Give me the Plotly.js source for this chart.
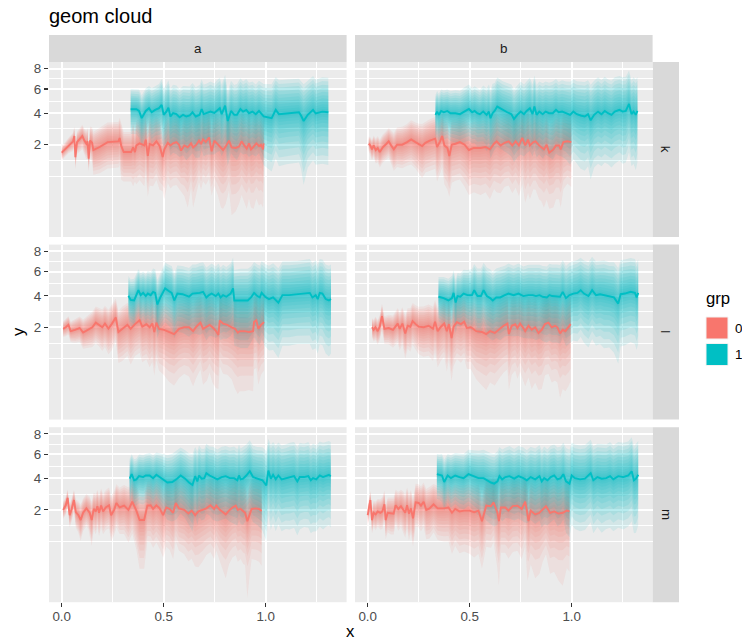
<!DOCTYPE html>
<html><head><meta charset="utf-8">
<script src="https://cdn.plot.ly/plotly-3.0.1.min.js"></script>
<style>html,body{margin:0;padding:0;background:#fff}#chart{width:742px;height:643px}</style>
</head><body><div id="chart"></div>
<script>
// ---------------- data ----------------
const facetCols = ['a', 'b'];
const facetRows = ['k', 'l', 'm'];
const groups = ['0', '1'];
const yBreaks = [2, 4, 6, 8];
const xBreaks = [0, 0.5, 1.0];
const xTickText = ['0.0', '0.5', '1.0'];

// panel a / k
const ak0_x = [0,.016,.033,.046,.056,.062,.067,.075,.088,.101,.111,.121,.127,.132,.139,.149,.155,.186,.225,.278,.284,.292,.304,.340,.350,.359,.366,.382,.405,.412,.422,.431,.448,.464,.480,.495,.503,.520,.533,.546,.562,.575,.585,.601,.618,.634,.644,.660,.673,.683,.693,.706,.722,.735,.748,.765,.781,.791,.804,.820,.833,.853,.869,.882,.895,.907,.918,.928,.941,.954,.967,.977,.987,.990];
const ak0_y = [1.60,1.76,1.97,2.07,2.18,2.48,1.40,2.14,2.29,2.48,2.22,2.05,2.18,1.33,2.22,2.10,1.73,1.88,2.14,2.18,2.37,1.93,1.63,1.63,1.86,1.63,1.96,2.07,1.96,2.27,1.45,2.03,1.96,2.18,1.93,1.40,1.76,2.10,1.96,2.07,2.14,2.0,1.70,1.96,1.86,2.07,1.86,2.0,2.22,2.03,2.29,2.14,2.40,1.67,2.22,2.03,1.86,1.73,1.90,2.22,1.86,1.83,1.90,2.18,1.96,1.80,2.07,1.76,1.90,2.07,1.93,2.0,1.76,2.07];
const ak0_s = [0.35,0.35,0.4,0.45,0.5,0.6,0.5,0.6,0.65,0.7,0.7,0.75,0.8,0.5,0.85,0.9,1.0,1.1,1.2,1.2,1.3,1.35,1.1,1.1,1.45,1.1,1.5,1.5,1.55,1.55,1.25,1.6,1.55,1.6,1.6,1.1,1.6,1.6,1.6,1.65,1.7,1.65,1.4,1.75,1.8,1.7,1.8,1.75,1.7,1.7,1.75,1.7,1.8,1.45,1.8,1.8,1.8,1.68,1.8,1.9,1.85,1.8,1.8,1.95,1.85,1.75,1.9,1.7,1.85,1.9,1.85,1.9,1.7,1.85];
const ak1_x = [.338,.366,.379,.392,.412,.428,.441,.458,.477,.490,.500,.513,.523,.533,.546,.562,.578,.595,.611,.627,.641,.657,.676,.686,.696,.709,.729,.748,.761,.775,.784,.801,.814,.830,.846,.859,.876,.889,.905,.918,.935,.951,.967,.990,1.029,1.049,1.065,1.101,1.163,1.173,1.186,1.206,1.232,1.245,1.278,1.307];
const ak1_y = [4.30,4.30,4.17,3.64,4.17,4.38,4.07,4.25,4.38,4.64,3.88,4.12,4.42,3.76,4.0,3.93,3.70,3.88,3.76,3.83,4.07,3.76,3.88,4.32,3.93,4.0,4.12,4.02,4.22,4.38,3.93,4.58,3.44,4.17,3.88,3.88,4.32,4.12,4.25,4.0,4.12,3.93,4.17,3.76,3.64,4.25,3.93,4.0,4.07,3.83,3.44,3.88,4.25,3.98,4.12,4.07];
const ak1_s = [1.7,1.7,1.8,1.8,1.9,1.9,2.0,2.0,2.1,2.3,2.2,2.3,2.4,2.3,2.4,2.4,2.3,2.4,2.5,2.4,2.5,2.4,2.5,2.6,2.5,2.5,2.6,2.5,2.6,2.7,2.5,2.8,2.4,2.6,2.5,2.6,2.7,2.6,2.7,2.6,2.6,2.5,2.6,2.7,2.8,2.9,2.9,2.9,2.9,2.9,3.0,2.9,3.0,2.9,3.0,3.0];

// panel b / k
const bk0_x = [.005,.013,.021,.029,.039,.049,.059,.075,.092,.103,.115,.128,.144,.169,.193,.213,.234,.252,.267,.283,.304,.331,.340,.355,.365,.376,.391,.400,.412,.430,.452,.475,.496,.520,.553,.578,.599,.619,.632,.651,.671,.691,.709,.725,.741,.758,.772,.786,.795,.812,.823,.840,.851,.864,.877,.890,.910,.923,.938,.946,.959,.979,.998];
const bk0_y = [2.05,1.96,1.76,1.96,1.73,1.83,1.63,1.88,2.05,2.18,1.96,1.76,2.0,2.0,2.14,2.29,2.14,2.0,1.93,2.10,2.22,2.33,1.88,2.18,2.48,1.96,1.83,1.45,2.0,2.05,2.14,2.0,1.73,1.83,1.83,1.88,1.76,2.05,2.18,1.96,2.10,2.18,1.96,2.18,1.96,2.37,1.96,2.27,1.96,2.14,2.18,1.96,1.88,1.76,2.0,1.60,1.76,1.96,1.96,1.76,2.14,2.18,2.14];
const bk0_s = [0.4,0.45,0.5,0.55,0.6,0.65,0.65,0.7,0.75,0.8,0.85,0.9,1.0,1.05,1.1,1.2,1.2,1.25,1.3,1.3,1.35,1.4,1.35,1.4,1.5,1.5,1.5,1.25,1.5,1.5,1.55,1.6,1.5,1.55,1.6,1.6,1.6,1.7,1.9,1.7,1.7,1.75,1.7,1.8,1.75,1.9,1.85,2.0,1.8,1.8,1.85,1.8,1.75,1.7,1.85,1.55,1.7,1.8,1.8,1.7,1.8,1.7,1.75];
const bk1_x = [.332,.340,.349,.360,.373,.390,.406,.430,.452,.471,.496,.512,.524,.537,.550,.566,.583,.594,.602,.612,.622,.635,.660,.684,.704,.717,.733,.750,.766,.779,.795,.808,.817,.828,.841,.858,.872,.889,.907,.923,.936,.953,.972,.992,1.008,1.025,1.044,1.064,1.080,1.093,1.110,1.129,1.146,1.162,1.178,1.195,1.211,1.234,1.250,1.265,1.281,1.293,1.303,1.314,1.322];
const bk1_y = [3.88,4.12,3.88,4.17,4.07,4.17,4.0,4.0,3.93,4.12,4.32,4.07,4.17,4.0,3.93,4.12,3.88,4.12,3.64,4.0,4.17,4.51,4.25,4.07,3.93,3.58,3.88,4.12,3.93,4.17,4.38,3.93,4.51,3.88,4.12,3.93,4.12,4.0,4.0,4.25,4.07,4.12,4.0,3.88,4.12,3.93,3.83,3.76,3.93,3.49,3.88,4.12,3.93,4.17,4.0,3.88,4.12,4.25,4.12,4.17,4.72,3.93,4.12,3.88,4.17];
const bk1_s = [1.6,1.7,1.7,1.8,1.8,1.8,1.8,1.9,1.9,2.0,2.1,2.0,2.1,2.1,2.0,2.2,2.2,2.3,2.3,2.5,2.4,2.6,2.5,2.5,2.5,2.4,2.5,2.6,2.5,2.6,2.7,2.5,2.8,2.5,2.6,2.6,2.6,2.6,2.7,2.7,2.6,2.7,2.7,2.8,2.8,2.8,2.9,2.9,2.9,2.9,2.9,3.0,2.9,3.0,2.9,2.9,3.0,3.0,3.0,3.0,3.1,2.9,3.0,3.0,3.0];

// panel a / l
const al0_x = [.007,.020,.033,.044,.065,.088,.105,.131,.150,.167,.183,.199,.212,.229,.245,.265,.278,.297,.322,.338,.359,.382,.395,.415,.431,.444,.454,.464,.477,.502,.526,.551,.575,.600,.624,.644,.660,.680,.693,.712,.725,.739,.755,.768,.775,.791,.812,.833,.850,.863,.873,.894,.918,.938,.943,.954,.964,.977,.992];
const al0_y = [1.92,2.0,2.13,1.80,1.87,1.96,1.73,1.87,2.0,2.25,2.13,2.0,2.20,1.93,2.17,2.55,1.76,1.92,2.13,1.92,2.17,2.38,2.03,2.17,2.0,2.20,1.76,2.25,1.92,1.87,1.76,1.66,1.92,2.0,2.0,1.80,2.03,2.25,1.92,2.03,2.13,2.0,1.83,1.62,2.38,2.20,2.13,2.0,1.92,1.73,1.80,1.80,1.76,1.80,2.30,2.38,1.92,2.13,2.28];
const al0_s = [0.4,0.45,0.5,0.5,0.6,0.65,0.7,0.8,0.9,1.0,1.0,1.05,1.1,1.1,1.2,1.25,1.2,1.3,1.35,1.4,1.4,1.5,1.45,1.5,1.55,1.6,1.5,1.6,1.55,1.6,1.6,1.55,1.7,1.7,1.75,1.7,1.8,1.85,1.8,1.85,1.8,1.85,1.75,1.55,1.9,1.9,1.85,1.8,1.85,1.7,1.75,1.75,1.7,1.75,1.9,1.95,1.8,1.85,1.9];
const al1_x = [.327,.338,.355,.366,.376,.387,.399,.412,.422,.436,.448,.458,.469,.485,.507,.523,.539,.552,.567,.592,.624,.641,.657,.676,.693,.709,.722,.735,.755,.768,.779,.791,.807,.828,.840,.846,.877,.912,.928,.943,.959,.971,.980,.997,1.016,1.036,1.062,1.082,1.114,1.155,1.216,1.229,1.245,1.255,1.265,1.278,1.294,1.310,1.320];
const al1_y = [4.0,3.70,3.66,4.12,4.43,4.05,4.22,3.98,4.17,4.05,4.30,4.22,3.38,3.93,4.57,4.38,4.22,3.66,4.17,4.12,3.93,4.17,4.17,4.22,4.30,3.88,4.05,4.17,3.98,4.17,3.88,4.05,3.93,4.17,4.57,3.66,3.66,3.66,3.88,4.22,3.98,3.88,4.22,3.93,3.76,3.88,3.51,4.05,4.05,4.12,4.22,3.88,4.05,3.76,4.22,4.17,3.76,3.66,3.76];
const al1_s = [1.6,1.6,1.7,1.7,1.8,1.8,1.8,1.8,1.9,1.9,2.0,2.0,1.9,2.0,2.3,2.3,2.3,2.2,2.4,2.4,2.4,2.5,2.5,2.6,2.6,2.5,2.5,2.6,2.5,2.6,2.5,2.6,2.5,2.6,2.8,2.5,2.6,2.6,2.6,2.7,2.7,2.7,2.8,2.8,2.8,2.9,2.8,2.9,2.9,2.9,3.0,2.9,3.0,2.9,3.0,3.0,2.9,2.9,2.9];

// panel b / l
const bl0_x = [.021,.029,.038,.049,.059,.070,.082,.103,.124,.135,.147,.157,.170,.184,.196,.209,.220,.235,.250,.274,.299,.320,.330,.343,.359,.375,.388,.398,.411,.421,.437,.457,.473,.486,.506,.532,.560,.581,.600,.623,.646,.666,.685,.692,.706,.723,.734,.747,.760,.772,.788,.804,.821,.837,.853,.869,.886,.902,.918,.930,.943,.956,.969,.984,.995];
const bl0_y = [2.0,1.87,2.0,1.80,2.03,2.63,1.92,1.96,1.87,2.03,2.20,1.92,2.20,1.69,2.08,2.03,2.34,2.17,2.03,2.0,2.08,1.92,2.30,1.80,2.03,2.20,1.80,2.17,1.47,2.03,2.28,2.17,2.30,1.96,2.0,1.80,1.76,1.66,1.80,1.71,1.92,2.08,2.20,1.66,2.08,2.17,1.96,2.20,2.0,1.80,2.08,1.87,2.0,1.71,1.87,2.17,2.25,2.0,2.08,2.0,1.69,1.87,1.80,2.0,2.17];
const bl0_s = [0.5,0.55,0.6,0.6,0.65,0.8,0.7,0.75,0.8,0.85,0.95,0.95,1.0,1.0,1.05,1.1,1.15,1.15,1.2,1.25,1.3,1.3,1.4,1.35,1.4,1.45,1.45,1.5,1.3,1.55,1.6,1.6,1.6,1.55,1.6,1.6,1.65,1.6,1.65,1.6,1.7,1.75,1.8,1.6,1.8,1.8,1.75,1.85,1.8,1.7,1.85,1.8,1.85,1.65,1.8,1.9,1.95,1.85,1.9,1.85,1.68,1.8,1.75,1.9,2.0];
const bl1_x = [.347,.372,.396,.413,.421,.431,.440,.454,.470,.489,.511,.522,.538,.555,.568,.584,.600,.613,.630,.649,.672,.690,.715,.739,.763,.788,.809,.825,.842,.858,.878,.891,.904,.927,.943,.956,.972,.989,1.008,1.028,1.044,1.060,1.082,1.100,1.119,1.139,1.158,1.184,1.207,1.228,1.240,1.261,1.289,1.310,1.318,1.326];
const bl1_y = [3.93,3.83,3.66,3.83,4.22,3.51,3.98,3.93,4.17,4.05,4.05,4.43,3.98,3.98,4.43,3.98,3.83,3.66,3.88,3.88,4.05,4.17,4.05,4.17,3.98,4.05,4.05,3.98,4.05,3.93,3.88,4.05,3.98,3.98,3.93,4.30,3.83,4.05,4.17,4.22,4.43,4.17,3.98,4.43,4.05,4.12,4.05,3.98,3.88,3.44,4.12,4.17,4.30,4.22,3.88,4.22];
const bl1_s = [1.6,1.7,1.7,1.8,1.9,1.8,1.9,1.9,2.0,2.1,2.2,2.3,2.3,2.3,2.4,2.4,2.4,2.3,2.4,2.5,2.5,2.6,2.5,2.6,2.5,2.6,2.6,2.6,2.6,2.6,2.6,2.7,2.7,2.7,2.7,2.8,2.7,2.8,2.8,2.9,2.9,2.9,2.9,3.0,2.9,2.9,3.0,2.9,3.0,2.9,3.0,3.0,3.0,3.0,2.9,3.0];

// panel a / m
const am0_x = [.007,.020,.029,.039,.049,.060,.069,.082,.093,.105,.121,.131,.137,.147,.157,.167,.175,.183,.193,.203,.216,.232,.242,.257,.268,.284,.306,.327,.346,.366,.382,.404,.420,.436,.448,.464,.480,.497,.513,.529,.546,.559,.575,.600,.621,.637,.654,.670,.690,.709,.729,.747,.758,.775,.791,.804,.820,.837,.853,.863,.877,.889,.899,.910,.922,.931,.951,.967,.980];
const am0_y = [2.0,2.25,2.68,1.73,2.05,2.55,1.88,1.73,1.50,1.85,2.08,1.96,1.85,1.50,2.05,1.92,2.20,1.85,2.23,1.92,2.13,2.25,1.73,2.0,2.38,2.13,2.23,2.0,2.45,1.96,1.50,1.50,2.23,2.25,2.05,2.25,2.08,1.73,2.13,2.05,1.85,2.38,2.08,2.0,1.81,1.96,1.73,1.92,2.0,2.08,2.25,2.05,2.23,2.0,1.88,1.77,1.96,2.13,2.23,2.0,2.05,1.92,1.85,1.45,1.85,2.05,2.08,2.05,1.94];
const am0_s = [0.45,0.5,0.55,0.55,0.6,0.65,0.7,0.75,0.8,0.8,0.85,0.85,0.9,0.95,0.95,1.0,1.0,1.0,1.05,1.0,1.05,1.1,1.05,1.1,1.2,1.2,1.3,1.35,1.5,1.5,1.4,1.4,1.55,1.6,1.55,1.6,1.6,1.45,1.6,1.6,1.6,1.7,1.65,1.65,1.6,1.7,1.6,1.8,1.8,1.75,1.85,1.8,1.8,1.8,1.8,1.75,1.8,1.85,1.9,1.8,1.8,1.75,1.7,1.5,1.8,1.8,1.85,1.85,1.8];
const am1_x = [.333,.343,.355,.366,.379,.399,.412,.431,.448,.464,.480,.502,.518,.542,.562,.583,.605,.624,.641,.654,.665,.673,.686,.699,.709,.725,.742,.763,.784,.804,.824,.845,.861,.869,.877,.889,.905,.922,.938,.959,.984,1.003,1.013,1.025,1.036,1.049,1.062,1.078,1.098,1.118,1.139,1.155,1.167,1.188,1.209,1.221,1.232,1.248,1.265,1.281,1.297,1.310,1.319];
const am1_y = [3.98,4.32,3.86,3.93,4.17,4.10,4.22,4.22,4.02,4.27,4.10,3.86,3.70,3.74,3.93,4.22,3.98,3.70,3.53,4.17,3.78,4.22,3.98,4.02,4.40,4.22,4.10,3.93,4.10,4.17,4.02,4.02,3.86,4.22,3.93,3.98,4.22,4.55,4.10,3.98,3.86,3.49,4.60,3.98,4.27,3.93,4.22,3.93,4.02,4.10,4.17,3.78,4.10,4.10,4.17,3.86,4.02,3.93,4.22,4.10,4.22,4.27,4.17];
const am1_s = [1.6,1.7,1.7,1.7,1.8,1.8,1.8,1.9,1.9,1.9,2.0,2.1,2.2,2.3,2.4,2.4,2.4,2.4,2.5,2.5,2.5,2.6,2.5,2.5,2.6,2.5,2.6,2.5,2.6,2.6,2.6,2.7,2.6,2.7,2.6,2.7,2.7,2.8,2.7,2.7,2.8,2.8,2.9,2.9,2.9,2.9,2.9,2.9,2.9,3.0,3.0,2.9,3.0,2.9,3.0,2.9,3.0,2.9,3.0,3.0,3.0,3.0,3.0];

// panel b / m
const bm0_x = [0,.007,.013,.021,.029,.039,.049,.062,.072,.082,.088,.098,.114,.127,.137,.150,.163,.173,.184,.193,.202,.212,.222,.235,.250,.261,.274,.287,.303,.323,.343,.372,.396,.413,.429,.450,.473,.499,.522,.543,.560,.581,.604,.617,.636,.643,.653,.674,.690,.711,.734,.755,.772,.783,.788,.799,.821,.842,.858,.874,.894,.914,.935,.956,.976,.989];
const bm0_y = [1.73,2.08,2.55,1.50,1.85,1.77,1.92,1.85,1.92,2.30,1.50,1.85,1.81,1.81,2.25,2.05,2.20,2.05,1.85,2.25,1.81,2.08,1.58,2.42,2.38,2.23,2.45,2.0,2.08,2.30,2.08,2.08,2.13,1.85,2.05,1.92,1.96,1.96,1.88,1.96,1.45,2.23,2.20,2.42,1.85,1.45,2.13,2.13,1.96,2.20,2.23,2.05,2.45,1.81,1.45,1.96,1.77,1.85,2.0,2.20,1.85,1.92,1.81,1.85,1.96,1.92];
const bm0_s = [0.5,0.55,0.6,0.55,0.65,0.7,0.7,0.75,0.8,0.85,0.75,0.85,0.9,0.9,0.95,1.0,1.0,1.05,1.05,1.1,1.1,1.1,1.05,1.2,1.2,1.2,1.25,1.25,1.3,1.3,1.35,1.4,1.45,1.5,1.5,1.55,1.55,1.6,1.6,1.6,1.35,1.7,1.7,1.75,1.75,1.45,1.75,1.75,1.7,1.8,1.8,1.8,1.9,1.8,1.42,1.8,1.75,1.8,1.8,1.85,1.8,1.85,1.8,1.85,1.85,1.85];
const bm1_x = [.339,.352,.364,.375,.392,.408,.429,.450,.470,.494,.519,.543,.568,.584,.604,.620,.636,.646,.659,.675,.695,.718,.739,.763,.780,.799,.821,.842,.853,.865,.881,.897,.914,.930,.946,.959,.972,.989,1.000,1.016,1.041,1.065,1.093,1.106,1.126,1.147,1.169,1.188,1.204,1.228,1.253,1.277,1.294,1.305,1.315,1.326];
const bm1_y = [4.32,4.27,4.22,3.74,4.22,4.02,4.22,4.10,4.02,4.32,4.17,4.02,4.02,3.86,3.70,3.62,3.78,4.17,3.93,4.10,4.17,3.98,4.17,4.02,3.86,4.10,3.93,4.17,3.78,4.02,3.86,4.10,4.22,3.93,4.02,4.32,3.78,3.62,4.22,4.02,3.93,3.98,4.40,3.86,4.10,3.98,4.02,4.17,3.93,4.17,4.10,4.22,4.55,3.86,3.98,4.27];
const bm1_s = [1.7,1.7,1.8,1.8,1.8,1.9,1.9,2.0,2.0,2.1,2.2,2.3,2.4,2.4,2.4,2.4,2.5,2.5,2.5,2.5,2.6,2.5,2.6,2.6,2.5,2.6,2.6,2.7,2.6,2.7,2.6,2.7,2.7,2.7,2.7,2.8,2.8,2.8,2.9,2.9,2.9,2.9,3.0,2.9,2.9,3.0,2.9,3.0,2.9,3.0,3.0,3.0,3.1,2.9,3.0,3.0];

const series = [
  {col:'a',row:'k',grp:'0',x:ak0_x,y:ak0_y,s:ak0_s},{col:'a',row:'k',grp:'1',x:ak1_x,y:ak1_y,s:ak1_s},
  {col:'b',row:'k',grp:'0',x:bk0_x,y:bk0_y,s:bk0_s},{col:'b',row:'k',grp:'1',x:bk1_x,y:bk1_y,s:bk1_s},
  {col:'a',row:'l',grp:'0',x:al0_x,y:al0_y,s:al0_s},{col:'a',row:'l',grp:'1',x:al1_x,y:al1_y,s:al1_s},
  {col:'b',row:'l',grp:'0',x:bl0_x,y:bl0_y,s:bl0_s},{col:'b',row:'l',grp:'1',x:bl1_x,y:bl1_y,s:bl1_s},
  {col:'a',row:'m',grp:'0',x:am0_x,y:am0_y,s:am0_s},{col:'a',row:'m',grp:'1',x:am1_x,y:am1_y,s:am1_s},
  {col:'b',row:'m',grp:'0',x:bm0_x,y:bm0_y,s:bm0_s},{col:'b',row:'m',grp:'1',x:bm1_x,y:bm1_y,s:bm1_s}
];

// ---------------- layout / styling ----------------
const W = 742, H = 643;
const colPx = [[49, 346.6], [355, 652.6]];
const rowPx = [[62, 237], [244.6, 419.6], [427.2, 602.2]];
const xRange = [-0.0623, 1.3965];
const yRange = [-0.304, 2.953];
const rgb = {'0': [248,118,109], '1': [0,191,196]};
const K = 12, ALPHA = 0.1, STEP_POW = 1.5;
const FONT = '"Liberation Sans", Arial, Helvetica, sans-serif';

function ssqrt(v) { return v >= 0 ? Math.sqrt(v) : -Math.sqrt(-v); }
function minorBreaks(major, range) {
  const b = major.slice();
  const bd = b[1] - b[0];
  if (range[0] < b[0]) b.unshift(b[0] - bd);
  if (range[1] > b[b.length-1]) b.push(b[b.length-1] + (b[b.length-1]-b[b.length-2]));
  const out = [];
  for (let i = 0; i < b.length - 1; i++) { out.push(b[i], (b[i]+b[i+1])/2); }
  out.push(b[b.length-1]);
  return out.filter(v => v > range[0] && v < range[1] && !major.some(m => Math.abs(m - v) < 1e-6));
}
const ySqrtBreaks = yBreaks.map(Math.sqrt);
const yMinor = minorBreaks(ySqrtBreaks, yRange);
const xMinor = minorBreaks(xBreaks, xRange);

function axisIds(col, row) {
  const p = facetRows.indexOf(row) * 2 + facetCols.indexOf(col) + 1;
  return {xa: p === 1 ? 'x' : 'x' + p, ya: p === 1 ? 'y' : 'y' + p, p};
}

const traces = [];
// clouds: nested bands, denser near the centre line
groups.forEach(g => {
  series.filter(se => se.grp === g).forEach(se => {
    const ids = axisIds(se.col, se.row);
    const c = rgb[g];
    for (let k = K; k >= 1; k--) {
      const f = Math.pow(k / K, STEP_POW);
      const up = se.x.map((_, i) => Math.sqrt(se.y[i] + se.s[i] * f));
      const lo = se.x.map((_, i) => ssqrt(se.y[i] - se.s[i] * f));
      traces.push({
        type: 'scatter', mode: 'lines',
        x: se.x.concat(se.x.slice().reverse()),
        y: up.concat(lo.slice().reverse()),
        fill: 'toself', fillcolor: `rgba(${c[0]},${c[1]},${c[2]},${ALPHA})`,
        line: {width: 0, color: 'rgba(0,0,0,0)'}, hoverinfo: 'skip',
        xaxis: ids.xa, yaxis: ids.ya, showlegend: false
      });
    }
  });
});
// lines
groups.forEach(g => {
  series.filter(se => se.grp === g).forEach(se => {
    const ids = axisIds(se.col, se.row);
    const c = rgb[g];
    traces.push({
      type: 'scatter', mode: 'lines', x: se.x, y: se.y.map(Math.sqrt),
      line: {width: 1.9, color: `rgb(${c[0]},${c[1]},${c[2]})`},
      hoverinfo: 'skip', xaxis: ids.xa, yaxis: ids.ya, showlegend: false
    });
  });
});

const layout = {
  width: W, height: H, margin: {l: 0, r: 0, t: 0, b: 0},
  paper_bgcolor: '#FFFFFF', plot_bgcolor: '#EBEBEB',
  font: {family: FONT, color: '#000000'},
  showlegend: false,
  title: {text: 'geom cloud', font: {family: FONT, size: 20, color: '#000000'},
          x: 49 / W, xanchor: 'left', xref: 'paper', y: 1 - 16 / H, yanchor: 'middle', yref: 'paper'},
  shapes: [], annotations: []
};

facetRows.forEach((row, r) => {
  facetCols.forEach((col, c) => {
    const ids = axisIds(col, row);
    const xKey = ids.p === 1 ? 'xaxis' : 'xaxis' + ids.p;
    const yKey = ids.p === 1 ? 'yaxis' : 'yaxis' + ids.p;
    const bottom = r === facetRows.length - 1, left = c === 0;
    layout[xKey] = {
      domain: [colPx[c][0] / W, colPx[c][1] / W], anchor: ids.ya, range: xRange,
      tickmode: 'array', tickvals: xBreaks, ticktext: xTickText,
      showticklabels: bottom, ticks: bottom ? 'outside' : '', ticklen: 4, tickwidth: 1.2, tickcolor: '#333333',
      ticklabelstandoff: -2,
      tickfont: {family: FONT, size: 13.4, color: '#4D4D4D'},
      showgrid: true, gridcolor: '#FFFFFF', gridwidth: 2, zeroline: false, showline: false,
      minor: {tickmode: 'array', tickvals: xMinor, showgrid: true, gridcolor: '#FFFFFF', gridwidth: 1, ticks: ''},
      fixedrange: true, automargin: false
    };
    layout[yKey] = {
      domain: [1 - rowPx[r][1] / H, 1 - rowPx[r][0] / H], anchor: ids.xa, range: yRange,
      tickmode: 'array', tickvals: ySqrtBreaks, ticktext: yBreaks.map(String),
      showticklabels: left, ticks: left ? 'outside' : '', ticklen: 4, tickwidth: 1.2, tickcolor: '#333333',
      tickfont: {family: FONT, size: 13.4, color: '#4D4D4D'},
      showgrid: true, gridcolor: '#FFFFFF', gridwidth: 2, zeroline: false, showline: false,
      minor: {tickmode: 'array', tickvals: yMinor, showgrid: true, gridcolor: '#FFFFFF', gridwidth: 1, ticks: ''},
      fixedrange: true, automargin: false
    };
  });
});

// strips
facetCols.forEach((col, c) => {
  layout.shapes.push({type: 'rect', xref: 'paper', yref: 'paper', x0: colPx[c][0] / W, x1: colPx[c][1] / W,
    y0: 1 - 62 / H, y1: 1 - 35 / H, fillcolor: '#D9D9D9', line: {width: 0}, layer: 'below'});
  layout.annotations.push({xref: 'paper', yref: 'paper', x: (colPx[c][0] + colPx[c][1]) / 2 / W, y: 1 - 48.5 / H,
    text: col, showarrow: false, xanchor: 'center', yanchor: 'middle', font: {family: FONT, size: 13.4, color: '#1A1A1A'}});
});
facetRows.forEach((row, r) => {
  layout.shapes.push({type: 'rect', xref: 'paper', yref: 'paper', x0: 652.6 / W, x1: 679 / W,
    y0: 1 - rowPx[r][1] / H, y1: 1 - rowPx[r][0] / H, fillcolor: '#D9D9D9', line: {width: 0}, layer: 'below'});
  layout.annotations.push({xref: 'paper', yref: 'paper', x: 665.8 / W, y: 1 - (rowPx[r][0] + rowPx[r][1]) / 2 / H,
    text: row, textangle: 90, showarrow: false, xanchor: 'center', yanchor: 'middle', font: {family: FONT, size: 13.4, color: '#1A1A1A'}});
});

// axis titles
layout.annotations.push({xref: 'paper', yref: 'paper', x: 350.8 / W, y: 1 - 631 / H, text: 'x', showarrow: false,
  xanchor: 'center', yanchor: 'middle', font: {family: FONT, size: 16.7, color: '#000000'}});
layout.annotations.push({xref: 'paper', yref: 'paper', x: 18 / W, y: 1 - 332 / H, text: 'y', textangle: -90, showarrow: false,
  xanchor: 'center', yanchor: 'middle', font: {family: FONT, size: 16.7, color: '#000000'}});

// legend
layout.annotations.push({xref: 'paper', yref: 'paper', x: 704 / W, y: 1 - 298 / H, text: 'grp', showarrow: false,
  xanchor: 'left', yanchor: 'middle', font: {family: FONT, size: 16.7, color: '#000000'}});
groups.forEach((g, i) => {
  const top = 317 + i * 26.5;
  const c = rgb[g];
  layout.shapes.push({type: 'rect', xref: 'paper', yref: 'paper', x0: 706 / W, x1: 728 / W,
    y0: 1 - (top + 22) / H, y1: 1 - top / H, fillcolor: `rgb(${c[0]},${c[1]},${c[2]})`, line: {width: 1, color: '#F2F2F2'}});
  layout.annotations.push({xref: 'paper', yref: 'paper', x: 732.5 / W, y: 1 - (top + 11) / H, text: g, showarrow: false,
    xanchor: 'left', yanchor: 'middle', font: {family: FONT, size: 13.4, color: '#000000'}});
});

Plotly.newPlot('chart', traces, layout, {staticPlot: true, displayModeBar: false});
</script>
</body></html>
